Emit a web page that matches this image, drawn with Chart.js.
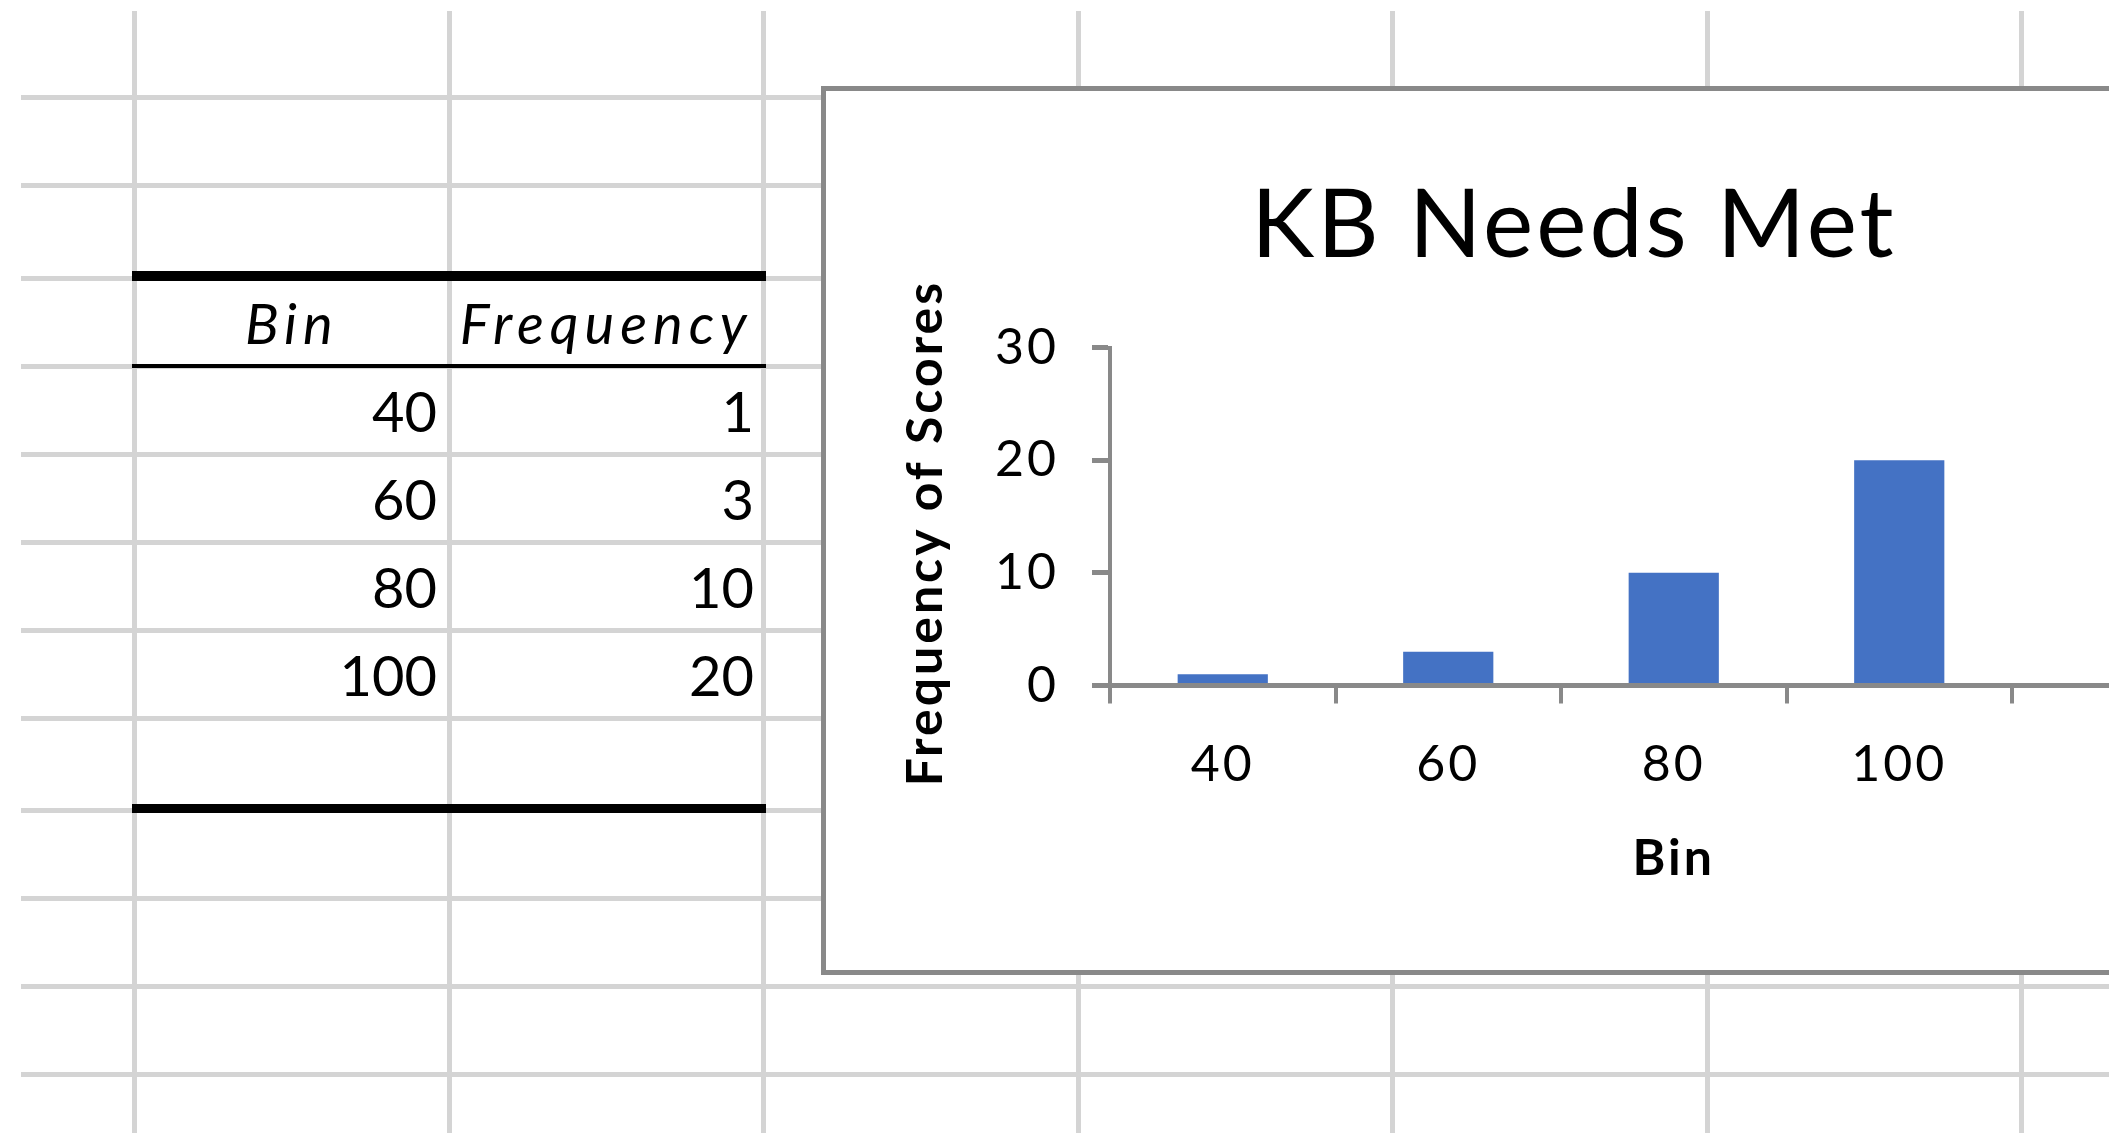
<!DOCTYPE html>
<html>
<head>
<meta charset="utf-8">
<title>KB Needs Met</title>
<script src="https://cdn.jsdelivr.net/npm/chart.js@4.4.1/dist/chart.umd.min.js"></script>
<style>
  html, body { margin: 0; padding: 0; background: #fff; overflow: hidden; }
  body { width: 2109px; height: 1133px; position: relative; font-family: Lato, "Open Sans", sans-serif; }
  .gv, .gh { position: absolute; background: #d4d4d4; }
  .gv { width: 5px; top: 11px; bottom: 0; }
  .gh { height: 5px; left: 21px; right: 0; }
  .rule { position: absolute; background: #000; left: 132px; width: 634px; }
  .cell { position: absolute; height: 56px; font-size: 56px; line-height: 56px; color: #000; white-space: nowrap; }
  .cell.head { font-style: italic; letter-spacing: 6px; }
  #chart-box { position: absolute; left: 821px; top: 86px; width: 1520px; height: 889px; box-sizing: border-box; border: 5px solid #898989; background: #fff; }
  #chart-wrap { position: absolute; left: 826px; top: 91px; width: 1496px; height: 879px; }
</style>
</head>
<body>
<div id="sheet"></div>
<div id="chart-box"></div>
<div id="chart-wrap"><canvas id="histChart" width="1496" height="879"></canvas></div>

<script>
// --- DATA ---
const bins = ["40", "60", "80", "100", ""];
const frequency = [1, 3, 10, 20, null];
const yTicks = [0, 10, 20, 30];
const tableHeaders = ["Bin", "Frequency"];
const chartTitle = "KB Needs Met";
const xTitle = "Bin";
const yTitle = "Frequency of Scores";

// --- SHEET GRID ---
const colLines = [134.5, 449, 763.5, 1078, 1392.5, 1707, 2021.5];
const rowLines = [97.5, 185.5, 278.5, 366, 454, 542, 630, 718, 810.5, 898.5, 986.5, 1074];
const sheet = document.getElementById("sheet");

colLines.forEach(x => {
  const d = document.createElement("div");
  d.className = "gv";
  d.style.left = (x - 2.5) + "px";
  sheet.appendChild(d);
});
rowLines.forEach(y => {
  const d = document.createElement("div");
  d.className = "gh";
  d.style.top = (y - 2.5) + "px";
  sheet.appendChild(d);
});

// table borders (thick top, thin under header, thick bottom)
[[271, 10], [364, 4], [804, 9]].forEach(([top, h]) => {
  const d = document.createElement("div");
  d.className = "rule";
  d.style.top = top + "px";
  d.style.height = h + "px";
  sheet.appendChild(d);
});

// --- TABLE TEXT ---
function addCell(text, left, width, baseline, align, head) {
  const d = document.createElement("div");
  d.className = head ? "cell head" : "cell";
  d.textContent = text;
  d.style.left = left + "px";
  d.style.width = width + "px";
  d.style.top = (baseline - 49.5) + "px";
  d.style.textAlign = align;
  sheet.appendChild(d);
}

addCell(tableHeaders[0], 134.5, 314.5, 344, "center", true);
addCell(tableHeaders[1], 449, 314.5, 344, "center", true);
bins.forEach((b, i) => {
  const base = 432 + i * 88;
  addCell(b, 134.5, 302.5, base, "right", false);
  addCell(frequency[i] == null ? "" : String(frequency[i]), 449, 305, base, "right", false);
});

// --- CHART ---
Chart.defaults.font.family = "Lato, 'Open Sans', sans-serif";
Chart.defaults.color = "#000";
const axisGrey = "#898989";

// Excel spaces its chart text out a little wider
const spacing = {
  id: "spacing",
  beforeDraw(chart) { chart.ctx.letterSpacing = "3px"; }
};

// y axis title, sitting a bit below the middle of the axis like Excel puts it
const yTitleLabel = {
  id: "yTitleLabel",
  afterDraw(chart) {
    const { ctx, scales: { y } } = chart;
    ctx.save();
    ctx.translate(y.left + 15.5, (y.top + y.bottom) / 2 + 16.5);
    ctx.rotate(-Math.PI / 2);
    ctx.font = "bold 50px Lato, 'Open Sans', sans-serif";
    ctx.fillStyle = "#000";
    ctx.textAlign = "center";
    ctx.textBaseline = "middle";
    ctx.fillText(yTitle, 0, 0);
    ctx.restore();
  }
};

new Chart(document.getElementById("histChart"), {
  type: "bar",
  data: {
    labels: bins,
    datasets: [{
      label: "Frequency",
      data: frequency,
      backgroundColor: "#4472C4",
      borderWidth: 0,
      categoryPercentage: 1.0,
      barPercentage: 0.4
    }]
  },
  options: {
    responsive: false,
    animation: false,
    layout: { padding: { left: 84.5, right: 84.5, top: 0, bottom: 0 } },
    plugins: {
      legend: { display: false },
      tooltip: { enabled: false },
      title: {
        display: true,
        text: chartTitle,
        color: "#000",
        font: { size: 95, weight: "normal", lineHeight: 1.2 },
        padding: { top: 78, bottom: 64.5 }
      }
    },
    scales: {
      x: {
        type: "category",
        afterFit: s => { s.height = 284.5; },
        grid: { drawOnChartArea: false, drawTicks: true, tickLength: 18, lineWidth: 4, color: axisGrey, offset: true },
        border: { display: true, color: axisGrey, width: 5, z: 1 },
        ticks: { font: { size: 50 }, padding: 31.6, maxRotation: 0, color: "#000" },
        title: { display: true, text: xTitle, font: { size: 50, weight: "bold", lineHeight: 1.2 }, padding: { top: 0, bottom: 81.4 }, color: "#000" }
      },
      y: {
        min: 0,
        max: 30,
        afterFit: s => { s.width = 199.5; },
        afterBuildTicks: s => { s.ticks = yTicks.map(v => ({ value: v })); },
        grid: { drawOnChartArea: false, drawTicks: true, tickLength: 18, lineWidth: 5, color: axisGrey },
        border: { display: true, color: axisGrey, width: 4, z: 1 },
        ticks: { font: { size: 50 }, padding: 33, color: "#000" },
        title: { display: false, text: yTitle }
      }
    }
  },
  plugins: [spacing, yTitleLabel]
});
</script>
</body>
</html>
